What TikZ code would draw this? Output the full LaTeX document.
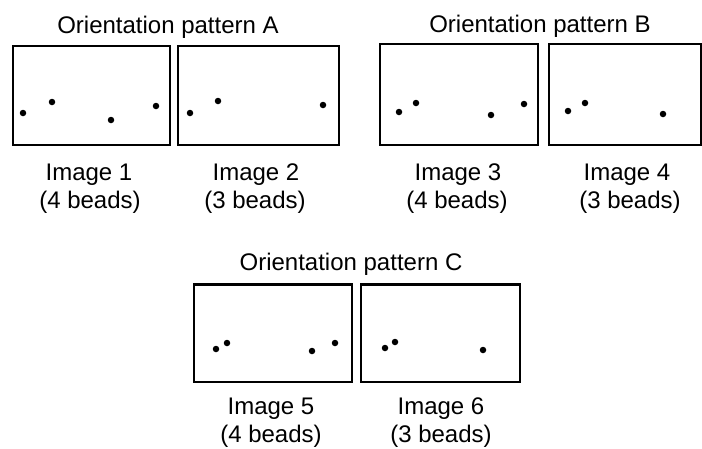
\documentclass[tikz,border=0pt]{standalone}
\usepackage{fontspec}
\setmainfont{Liberation Sans}
\begin{document}
\begin{tikzpicture}[x=1pt,y=-1pt,
  frame/.style={draw=black, line width=2.4pt, inner sep=0pt, minimum height=99pt},
  bead/.style={circle, fill=black, inner sep=0pt, minimum size=6.5pt},
  lbl/.style={font=\fontsize{24}{28}\selectfont, anchor=base, inner sep=0pt}]
\useasboundingbox (0,0) rectangle (702,448);
% frames
\node[frame, minimum width=157pt] (im1) at (91.5,95.5) {};
\node[frame, minimum width=161pt] (im2) at (258.5,95.5) {};
\node[frame, minimum width=158pt, minimum height=101pt] (im3) at (459,94.5) {};
\node[frame, minimum width=152pt, minimum height=101pt] (im4) at (625,94.5) {};
\node[frame, minimum width=158pt, minimum height=97.5pt] (im5) at (273,333.25) {};
\node[frame, minimum width=159pt, minimum height=97.5pt] (im6) at (440.5,333.25) {};
% beads
\node[bead] (b11) at (23,113) {};
\node[bead] (b12) at (52,102) {};
\node[bead] (b13) at (111,120) {};
\node[bead] (b14) at (156,106) {};
\node[bead] (b21) at (190,113) {};
\node[bead] (b22) at (218,101) {};
\node[bead] (b23) at (323,105) {};
\node[bead] (b31) at (399,112) {};
\node[bead] (b32) at (416,103) {};
\node[bead] (b33) at (491,115) {};
\node[bead] (b34) at (524,104) {};
\node[bead] (b41) at (568,111) {};
\node[bead] (b42) at (585,103) {};
\node[bead] (b43) at (663,114) {};
\node[bead] (b51) at (216,349) {};
\node[bead] (b52) at (227,343) {};
\node[bead] (b53) at (312,351) {};
\node[bead] (b54) at (335,343) {};
\node[bead] (b61) at (385,348) {};
\node[bead] (b62) at (395,342) {};
\node[bead] (b63) at (483,350) {};
% titles
\node[lbl] (tA) at (168,33) {Orientation pattern A};
\node[lbl] (tB) at (540,32) {Orientation pattern B};
\node[lbl] (tC) at (351,270) {Orientation pattern C};
% captions
\node[lbl] (c1a) at (89,180) {Image 1};
\node[lbl] (c1b) at (90,208) {(4 beads)};
\node[lbl] (c2a) at (256,180) {Image 2};
\node[lbl] (c2b) at (255,208) {(3 beads)};
\node[lbl] (c3a) at (458,180) {Image 3};
\node[lbl] (c3b) at (457,208) {(4 beads)};
\node[lbl] (c4a) at (627,180) {Image 4};
\node[lbl] (c4b) at (630,208) {(3 beads)};
\node[lbl] (c5a) at (271,414) {Image 5};
\node[lbl] (c5b) at (271,442) {(4 beads)};
\node[lbl] (c6a) at (441,414) {Image 6};
\node[lbl] (c6b) at (441,442) {(3 beads)};
\end{tikzpicture}
\end{document}
